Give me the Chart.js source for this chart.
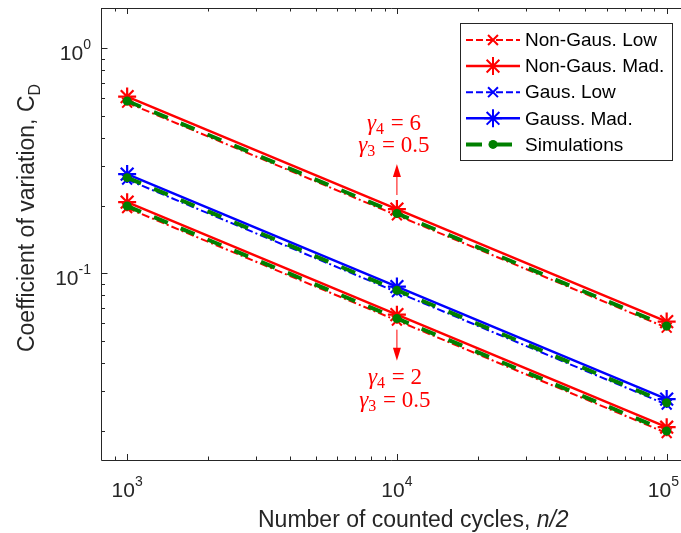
<!DOCTYPE html>
<html>
<head>
<meta charset="utf-8">
<script src="https://cdn.jsdelivr.net/npm/chart.js@4.4.1/dist/chart.umd.min.js"></script>
<style>
html,body{margin:0;padding:0;background:#fff;overflow:hidden}
canvas{display:block}
</style>
</head>
<body>
<canvas id="grafCv" width="681" height="533"></canvas>
<script>
// datos (ejes log-log)
const ciclos = [1e3, 1e4, 1e5];
const nonGausLow6 = [0.573, 0.181, 0.0573];
const nonGausMad6 = [0.610, 0.193, 0.0610];
const nonGausLow2 = [0.195, 0.0617, 0.0195];
const nonGausMad2 = [0.207, 0.0655, 0.0207];
const gausLow = [0.261, 0.0825, 0.0261];
const gausMad = [0.276, 0.0873, 0.0276];
const simAlta = [0.583, 0.1845, 0.0583];
const simGauss = [0.266, 0.0841, 0.0266];
const simBaja = [0.199, 0.063, 0.0199];

const ticksX = [1e3, 1e4, 1e5];
const expX = ['3', '4', '5'];
const ticksY = [1e-1, 1e0];
const expY = ['-1', '0'];

const ROJO = '#ff0000', AZUL = '#0000ff', VERDE = '#008000', EJE = '#262626';
const DASHDOT = [8, 3, 2, 3];
const SANS = '"Liberation Sans", Arial, sans-serif';

function puntos(arr){
    return ciclos.map((c, i) => ({x: c, y: arr[i]}));
}

function serie(label, arr, color, tipo, enLeyenda, orden){
    let ds = {label: label, data: puntos(arr), borderColor: color, backgroundColor: color,
        fill: false, tension: 0, order: orden, enLeyenda: enLeyenda, tipo: tipo};
    if(tipo === 'low'){
        ds.borderWidth = 2; ds.borderDash = DASHDOT;
        ds.pointStyle = 'crossRot'; ds.pointRadius = 7; ds.pointBorderWidth = 2;
    } else if(tipo === 'mad'){
        ds.borderWidth = 2.5;
        ds.pointStyle = 'star'; ds.pointRadius = 9; ds.pointBorderWidth = 2.2;
    } else {
        ds.borderWidth = 4; ds.borderDash = [15, 14];
        ds.pointStyle = 'circle'; ds.pointRadius = 4.5; ds.pointBorderWidth = 0;
    }
    ds.pointHoverRadius = ds.pointRadius;
    return ds;
}

const datasets = [
    serie('Simulations', simAlta, VERDE, 'sim', true, 0),
    serie('Simulations', simGauss, VERDE, 'sim', false, 0),
    serie('Simulations', simBaja, VERDE, 'sim', false, 0),
    serie('Non-Gaus. Low', nonGausLow6, ROJO, 'low', true, 2),
    serie('Non-Gaus. Mad.', nonGausMad6, ROJO, 'mad', true, 1),
    serie('Non-Gaus. Low', nonGausLow2, ROJO, 'low', false, 2),
    serie('Non-Gaus. Mad.', nonGausMad2, ROJO, 'mad', false, 1),
    serie('Gaus. Low', gausLow, AZUL, 'low', true, 2),
    serie('Gauss. Mad.', gausMad, AZUL, 'mad', true, 1)
];
const ordenLeyenda = ['Non-Gaus. Low', 'Non-Gaus. Mad.', 'Gaus. Low', 'Gauss. Mad.', 'Simulations'];

// texto con superindice (10^n)
function textoPotencia(ctx, base, exp, x, y, alinear){
    ctx.font = '21px ' + SANS;
    let wb = ctx.measureText(base).width;
    ctx.font = '14px ' + SANS;
    let we = ctx.measureText(exp).width;
    let x0 = alinear === 'right' ? x - wb - we : x - (wb + we) / 2;
    x0 = Math.min(x0, 679 - wb - we);
    ctx.fillStyle = EJE;
    ctx.textAlign = 'left';
    ctx.textBaseline = 'alphabetic';
    ctx.font = '21px ' + SANS;
    ctx.fillText(base, x0, y);
    ctx.font = '14px ' + SANS;
    ctx.fillText(exp, x0 + wb, y - 11);
}

function marcador(ctx, tipo, x, y, color){
    ctx.save();
    ctx.strokeStyle = color; ctx.fillStyle = color; ctx.lineWidth = 2; ctx.setLineDash([]);
    ctx.beginPath();
    if(tipo === 'sim'){
        ctx.arc(x, y, 4.5, 0, Math.PI * 2); ctx.fill();
    } else {
        let r = tipo === 'mad' ? 9 : 7;
        let d = r * Math.SQRT1_2;
        ctx.moveTo(x - d, y - d); ctx.lineTo(x + d, y + d);
        ctx.moveTo(x - d, y + d); ctx.lineTo(x + d, y - d);
        if(tipo === 'mad'){
            ctx.moveTo(x - r, y); ctx.lineTo(x + r, y);
            ctx.moveTo(x, y - r); ctx.lineTo(x, y + r);
        }
        ctx.stroke();
    }
    ctx.restore();
}

function flecha(ctx, x, y1, y2){
    let dir = y2 > y1 ? 1 : -1;
    ctx.save();
    ctx.strokeStyle = ROJO; ctx.fillStyle = ROJO; ctx.lineWidth = 1;
    ctx.beginPath(); ctx.moveTo(x, y1); ctx.lineTo(x, y2 - dir * 10); ctx.stroke();
    ctx.beginPath();
    ctx.moveTo(x, y2); ctx.lineTo(x - 4, y2 - dir * 13); ctx.lineTo(x + 4, y2 - dir * 13);
    ctx.closePath(); ctx.fill();
    ctx.restore();
}

function textoGamma(ctx, sub, valor, xc, y){
    ctx.save();
    ctx.fillStyle = ROJO; ctx.textBaseline = 'alphabetic'; ctx.textAlign = 'left';
    let fG = 'italic 23px "Liberation Serif", serif';
    let fS = '16px "Liberation Serif", serif';
    let fT = '23px "Liberation Serif", serif';
    let resto = ' = ' + valor;
    ctx.font = fG; let wg = ctx.measureText('γ').width;
    ctx.font = fS; let ws = ctx.measureText(sub).width;
    ctx.font = fT; let wr = ctx.measureText(resto).width;
    let x0 = xc - (wg + ws + 1 + wr) / 2;
    ctx.font = fG; ctx.fillText('γ', x0, y);
    ctx.font = fS; ctx.fillText(sub, x0 + wg, y + 4);
    ctx.font = fT; ctx.fillText(resto, x0 + wg + ws + 1, y);
    ctx.restore();
}

const pluginEjes = {
    id: 'ejesMatlab',
    beforeDatasetsDraw(chart){
        const ctx = chart.ctx, a = chart.chartArea;
        const sx = chart.scales.x, sy = chart.scales.y;
        ctx.save();
        ctx.strokeStyle = EJE; ctx.lineWidth = 1;
        ctx.beginPath();
        ctx.moveTo(a.left + 0.5, a.bottom + 0.5); ctx.lineTo(a.left + 0.5, a.top + 0.5);
        ctx.lineTo(a.right + 5, a.top + 0.5);
        ctx.moveTo(a.left + 0.5, a.bottom + 0.5); ctx.lineTo(a.right + 5, a.bottom + 0.5);
        // marcas en x (mayores y menores)
        for(let d = 100; d <= 1e6; d *= 10){
            for(let k = 1; k <= 9; k++){
                let v = d * k;
                if(v < sx.min || v > sx.max) continue;
                let px = Math.round(sx.getPixelForValue(v)) + 0.5;
                let L = k === 1 ? 6 : 3.5;
                ctx.moveTo(px, a.bottom); ctx.lineTo(px, a.bottom - L);
                ctx.moveTo(px, a.top); ctx.lineTo(px, a.top + L);
            }
        }
        for(let d = 0.001; d <= 10; d *= 10){
            for(let k = 1; k <= 9; k++){
                let v = d * k;
                if(v < sy.min || v > sy.max) continue;
                let py = Math.round(sy.getPixelForValue(v)) + 0.5;
                let L = k === 1 ? 6.5 : 4;
                ctx.moveTo(a.left, py); ctx.lineTo(a.left + L, py);
            }
        }
        ctx.stroke();
        ctx.restore();
    },
    afterDraw(chart){
        const ctx = chart.ctx, a = chart.chartArea;
        const sx = chart.scales.x, sy = chart.scales.y;
        ctx.save();
        ticksX.forEach((v, i) => textoPotencia(ctx, '10', expX[i], sx.getPixelForValue(v), a.bottom + 37, 'center'));
        ticksY.forEach((v, i) => textoPotencia(ctx, '10', expY[i], a.left - 10, sy.getPixelForValue(v) + 12, 'right'));

        // titulo eje x
        ctx.fillStyle = EJE; ctx.textAlign = 'left'; ctx.textBaseline = 'alphabetic';
        let t1 = 'Number of counted cycles, ', t2 = 'n/2';
        ctx.font = '23px ' + SANS; let w1 = ctx.measureText(t1).width;
        ctx.fillText(t1, 258, a.bottom + 67);
        ctx.font = 'italic 23px ' + SANS;
        ctx.fillText(t2, 258 + w1, a.bottom + 67);

        // titulo eje y
        ctx.save();
        ctx.translate(34, 218);
        ctx.rotate(-Math.PI / 2);
        let ty = 'Coefficient of variation, C';
        ctx.font = '23px ' + SANS; let wy = ctx.measureText(ty).width;
        ctx.font = '16px ' + SANS; let wd = ctx.measureText('D').width;
        let x0 = -(wy + wd) / 2;
        ctx.font = '23px ' + SANS; ctx.fillText(ty, x0, 0);
        ctx.font = '16px ' + SANS; ctx.fillText('D', x0 + wy, 6);
        ctx.restore();

        // anotaciones gamma
        let xm = sx.getPixelForValue(1e4);
        let yAlta = sy.getPixelForValue(nonGausMad6[1]);
        let yBaja = sy.getPixelForValue(nonGausMad2[1]);
        flecha(ctx, xm, yAlta - 14, yAlta - 45);
        textoGamma(ctx, '4', '6', xm - 3, yAlta - 79);
        textoGamma(ctx, '3', '0.5', xm - 3, yAlta - 57);
        flecha(ctx, xm, yBaja + 15, yBaja + 46);
        textoGamma(ctx, '4', '2', xm - 2, yBaja + 69);
        textoGamma(ctx, '3', '0.5', xm - 2, yBaja + 92);

        // leyenda
        let bx = 460, by = 23, bw = 212, bh = 137;
        ctx.fillStyle = '#fff';
        ctx.fillRect(bx, by, bw, bh);
        ctx.strokeStyle = EJE; ctx.lineWidth = 1;
        ctx.strokeRect(bx + 0.5, by + 0.5, bw, bh);
        ordenLeyenda.forEach((lab, i) => {
            let ds = chart.data.datasets.find(d => d.label === lab && d.enLeyenda);
            let yc = 40 + i * 26.1;
            ctx.save();
            ctx.strokeStyle = ds.borderColor; ctx.lineWidth = ds.borderWidth;
            ctx.setLineDash(ds.tipo === 'sim' ? [16, 14] : (ds.borderDash ? [7, 3] : []));
            ctx.beginPath(); ctx.moveTo(466, yc); ctx.lineTo(520, yc); ctx.stroke();
            ctx.restore();
            marcador(ctx, ds.tipo, 493, yc, ds.borderColor);
            ctx.fillStyle = '#000'; ctx.font = '19px ' + SANS;
            ctx.textBaseline = 'middle'; ctx.textAlign = 'left';
            ctx.fillText(lab, 525, yc + 1);
        });
        ctx.restore();
    }
};

const ctx = document.getElementById('grafCv');
const myChart = new Chart(ctx, {
    type: 'line',
    data: {datasets: datasets},
    options: {
        responsive: false,
        animation: false,
        devicePixelRatio: 1,
        layout: {autoPadding: false, padding: {left: 101, top: 8, right: 0, bottom: 73}},
        scales: {
            x: {type: 'logarithmic', min: 800, max: 113000, display: false},
            y: {type: 'logarithmic', min: 0.0148, max: 1.51, display: false}
        },
        plugins: {legend: {display: false}, tooltip: {enabled: false}}
    },
    plugins: [pluginEjes]
});
</script>
</body>
</html>
